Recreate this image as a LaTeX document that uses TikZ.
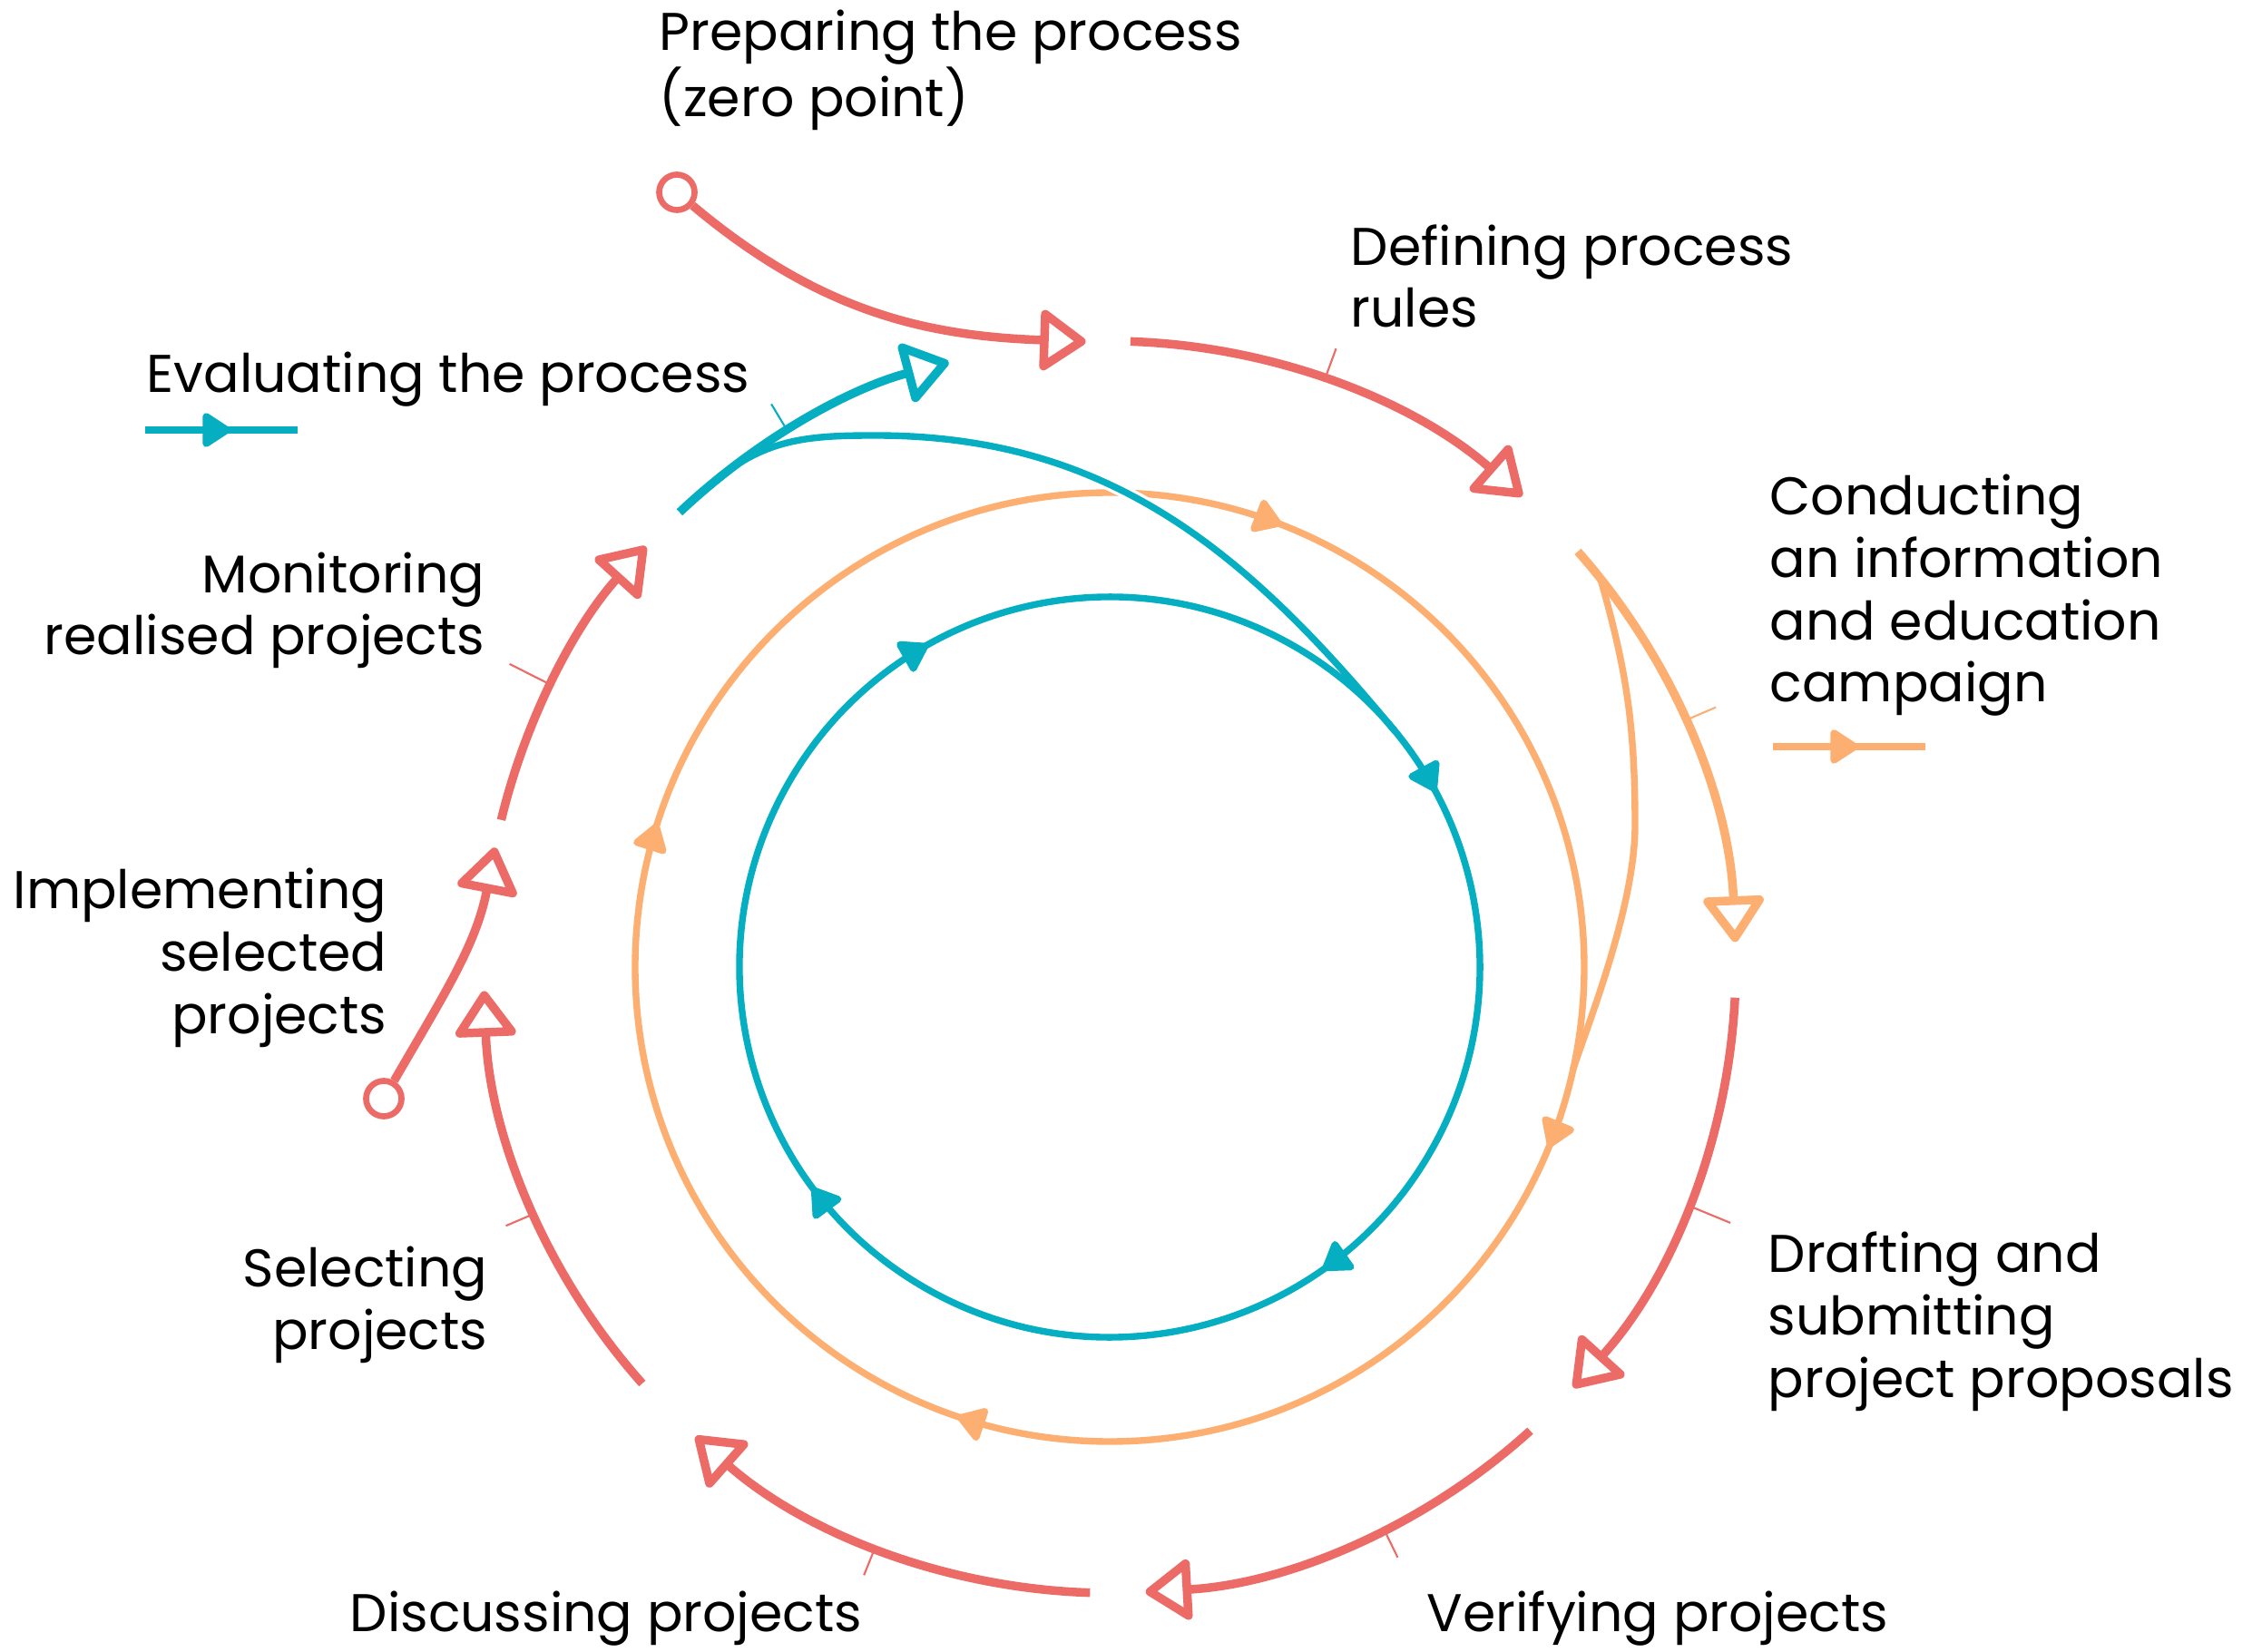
\documentclass[tikz,border=0pt]{standalone}
\usepackage{fontspec}
\setmainfont{Poppins}
\usetikzlibrary{arrows.meta,decorations.markings}

\definecolor{redc}{HTML}{EC6B67}
\definecolor{orangec}{HTML}{FDAF72}
\definecolor{tealc}{HTML}{06AEC1}

\begin{document}
\begin{tikzpicture}[
    stage/.style={line width=2.7pt, -{Triangle[open, length=5.4mm, width=7.3mm, round]}},
    inner/.style={line width=2.1pt},
    tick/.style={line width=0.6pt},
    dot/.style={circle, draw=redc, line width=1.9pt, minimum size=3.9mm, inner sep=0pt, fill=white},
    lbl/.style={font=\fontsize{16.65}{19.6}\selectfont, inner sep=0pt},
    >={Triangle[length=3.4mm, width=4.2mm, round]}
  ]
  \fill[white] (0,0) rectangle (24.93,18.20);
  \useasboundingbox (0,0) rectangle (24.93,18.20);
  \coordinate (c) at (12.23,7.54);
  \def\R{6.9}

  \path (c) ++(180:5.23) coordinate (orstart);
  \draw[inner, orangec, postaction={decorate}, decoration={markings,
      mark=at position 0.049 with {\arrow{>}},
      mark=at position 0.309 with {\arrow{>}},
      mark=at position 0.562 with {\arrow{>}},
      mark=at position 0.802 with {\arrow{>}}}]
    (orstart) arc[start angle=180, end angle=-180, radius=5.23];

  \path (c) ++(128.8:\R) coordinate (evalfork);
  \path (c) ++(39.6:4.08) coordinate (evaljoin);
  \coordinate (evaltop) at (9.65,13.40);
  \draw[inner, tealc, preaction={draw=white, line width=4pt}]
    (evalfork) to[out=40, in=180] (evaltop) to[out=0, in=129.6] (evaljoin);

  \path (c) ++(150:4.08) coordinate (tlstart);
  \draw[inner, tealc, postaction={decorate}, decoration={markings,
      mark=at position 0.085 with {\arrow{>}},
      mark=at position 0.338 with {\arrow{>}},
      mark=at position 0.569 with {\arrow{>}},
      mark=at position 0.815 with {\arrow{>}}}]
    (tlstart) arc[start angle=150, end angle=-210, radius=4.08];

  \path (c) ++(38.4:\R) coordinate (campfork);
  \path (c) ++(-12.5:5.23) coordinate (campjoin);
  \coordinate (campside) at (18.02,9.1);
  \draw[inner, orangec] (campfork) to[out=-74, in=90] (campside)
    .. controls +(0,-0.9) and +(72:0.5) .. (campjoin);

  \foreach \a/\b/\col in {88.1/48.8/redc, 41.6/2.3/orangec, -2.8/-42.2/redc,
      -47.8/-86.7/redc, -91.8/-131.4/redc, -138.3/-177.8/redc,
      166.4/137.8/redc, 133.4/104.9/tealc}
    \draw[stage, \col] (c) ++(\a:\R) arc[start angle=\a, end angle=\b, radius=\R];

  \node[dot] (zero) at (7.46,16.08) {};
  \path (c) ++(92.2:\R) coordinate (preptip);
  \draw[stage, redc] (zero) to[out=-40, in=178] (preptip);
  \node[dot] (implstart) at (4.23,6.09) {};
  \path (c) ++(169:\R) coordinate (impltip);
  \draw[stage, redc] (implstart) to[out=60, in=259] (impltip);

  \foreach \ang/\len/\col in {69.9/0.36/redc, 23.2/0.37/orangec, -22.4/0.5/redc,
      -64/0.34/redc, -112/0.33/redc, 203.2/0.34/redc, 153.2/0.51/redc, 121/0.34/tealc}
    \draw[tick, \col] (c) ++(\ang:\R) -- ++(\ang:\len);

  \coordinate (evlegA) at (1.60,13.46);
  \coordinate (evlegB) at (3.28,13.46);
  \draw[inner, tealc, postaction={decorate},
    decoration={markings, mark=at position 0.56 with {\arrow{>}}}] (evlegA) -- (evlegB);
  \coordinate (camplegA) at (19.54,9.97);
  \coordinate (camplegB) at (21.22,9.97);
  \draw[inner, orangec, postaction={decorate},
    decoration={markings, mark=at position 0.56 with {\arrow{>}}}] (camplegA) -- (camplegB);

  \node[lbl, anchor=base west, align=left] (prep) at (7.26,16.91) {Preparing the process\\(zero point)};
  \node[lbl, anchor=base west, align=left] (rules) at (14.88,14.59) {Defining process\\rules};
  \node[lbl, anchor=base west, align=left] (eval) at (1.61,13.87) {Evaluating the process};
  \node[lbl, anchor=base west, align=left] (camp) at (19.50,10.46) {Conducting\\an information\\and education\\campaign};
  \node[lbl, anchor=base east, align=right] (monit) at (5.35,10.98) {Monitoring\\realised projects};
  \node[lbl, anchor=base east, align=right] (impl) at (4.27,6.81) {Implementing\\selected\\projects};
  \node[lbl, anchor=base east, align=right] (select) at (5.38,3.33) {Selecting\\projects};
  \node[lbl, anchor=base west, align=left] (draft) at (19.48,2.80) {Drafting and\\submitting\\project proposals};
  \node[lbl, anchor=base west, align=left] (discuss) at (3.85,0.22) {Discussing projects};
  \node[lbl, anchor=base west, align=left] (verify) at (15.72,0.22) {Verifying projects};
\end{tikzpicture}
\end{document}
